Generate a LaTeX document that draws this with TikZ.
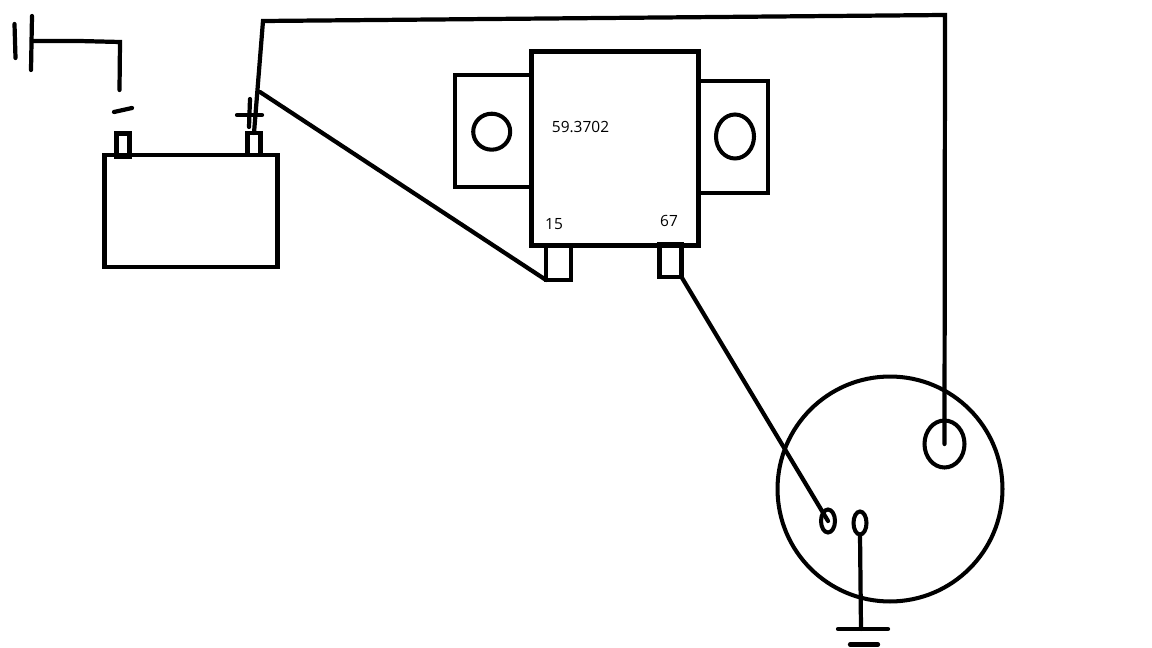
\documentclass[tikz,border=0pt]{standalone}
\usepackage{fontspec}
\setmainfont{Open Sans}
\usetikzlibrary{positioning, shapes.geometric}
\tikzset{
    wire/.style={line width=2.4pt, line cap=round, line join=miter},
    partbox/.style={draw, line width=2.6pt, inner sep=0pt, outer sep=0pt},
    terminal/.style={draw, line width=2.4pt, inner sep=0pt, outer sep=0pt},
    pin/.style={draw, ellipse, line width=2.3pt, inner sep=0pt, outer sep=0pt},
    partlabel/.style={inner sep=0pt, font=\fontsize{8.8}{10}\selectfont}
}
\begin{document}
\begin{tikzpicture}[x=0.02cm, y=-0.02cm]
    \useasboundingbox (0, 0) rectangle (1152, 648);

    % Battery
    \node[partbox, minimum width=3.45cm, minimum height=2.24cm] (battery) at (191, 211) {};
    \node[terminal, minimum width=0.26cm, minimum height=0.46cm] (termneg) at (123, 145) {};
    \node[terminal, minimum width=0.26cm, minimum height=0.44cm] (termpos) at (254, 144) {};
    \draw[wire] (114, 112) -- (132, 108); % minus
    \draw[wire] (237, 115) -- (262, 115); % plus
    \draw[wire] (250, 99) -- (249, 127);

    % Chassis connection of the battery
    \coordinate (plate) at (32, 41);
    \coordinate (negend) at (119.5, 90);
    \draw[wire] (14.5, 24) -- (15.5, 58);
    \draw[wire] (32, 16) -- (31, 70);
    \draw[wire] (plate) -- (79, 41) -- (120, 42) -- (negend);

    % Regulator with its two tabs
    \node[partbox, minimum width=3.35cm, minimum height=3.87cm] (regulator) at (615, 148.5) {};
    \node[partbox, minimum width=1.52cm, minimum height=2.24cm] (tableft) at (493, 131) {};
    \node[partbox, minimum width=1.38cm, minimum height=2.24cm] (tabright) at (733.5, 137) {};
    \node[pin, minimum width=0.74cm, minimum height=0.72cm] (holeleft) at (491.7, 131.7) {};
    \node[pin, minimum width=0.76cm, minimum height=0.88cm] (holeright) at (735, 136.5) {};
    \node[terminal, minimum width=0.5cm, minimum height=0.7cm] (term15) at (558.5, 262.5) {};
    \node[terminal, minimum width=0.44cm, minimum height=0.66cm] (term67) at (670.5, 260.5) {};
    \node[partlabel] (lbltype) at (580.5, 127) {59.3702};
    \node[partlabel] (lbl15) at (554, 224) {15};
    \node[partlabel] (lbl67) at (669, 221) {67};

    % Round connector
    \node[draw, circle, line width=2.3pt, inner sep=0pt, outer sep=0pt, minimum size=4.5cm] (socket) at (890, 489) {};
    \node[pin, minimum width=0.8cm, minimum height=0.94cm] (pinbig) at (944.5, 444) {};
    \node[pin, minimum width=0.28cm, minimum height=0.46cm] (pinleft) at (828, 521) {};
    \node[pin, minimum width=0.26cm, minimum height=0.46cm] (pinmid) at (860, 523) {};

    % Wires
    \coordinate (bendA) at (263, 21);
    \coordinate (bendB) at (945, 15);
    \coordinate (junction) at (260, 92);
    \coordinate (gnd) at (861, 629);
    \draw[wire] (termpos.north) -- (bendA) -- (bendB) -- (pinbig.center);
    \draw[wire] (junction) -- (term15.south west);
    \draw[wire] (term67.south east) -- (pinleft.center);
    \draw[wire] (pinmid.south) -- (gnd);

    % Ground symbol
    \draw[wire] (838, 629) -- (888, 629);
    \draw[wire] (850, 644.5) -- (878, 644.5);
\end{tikzpicture}
\end{document}
